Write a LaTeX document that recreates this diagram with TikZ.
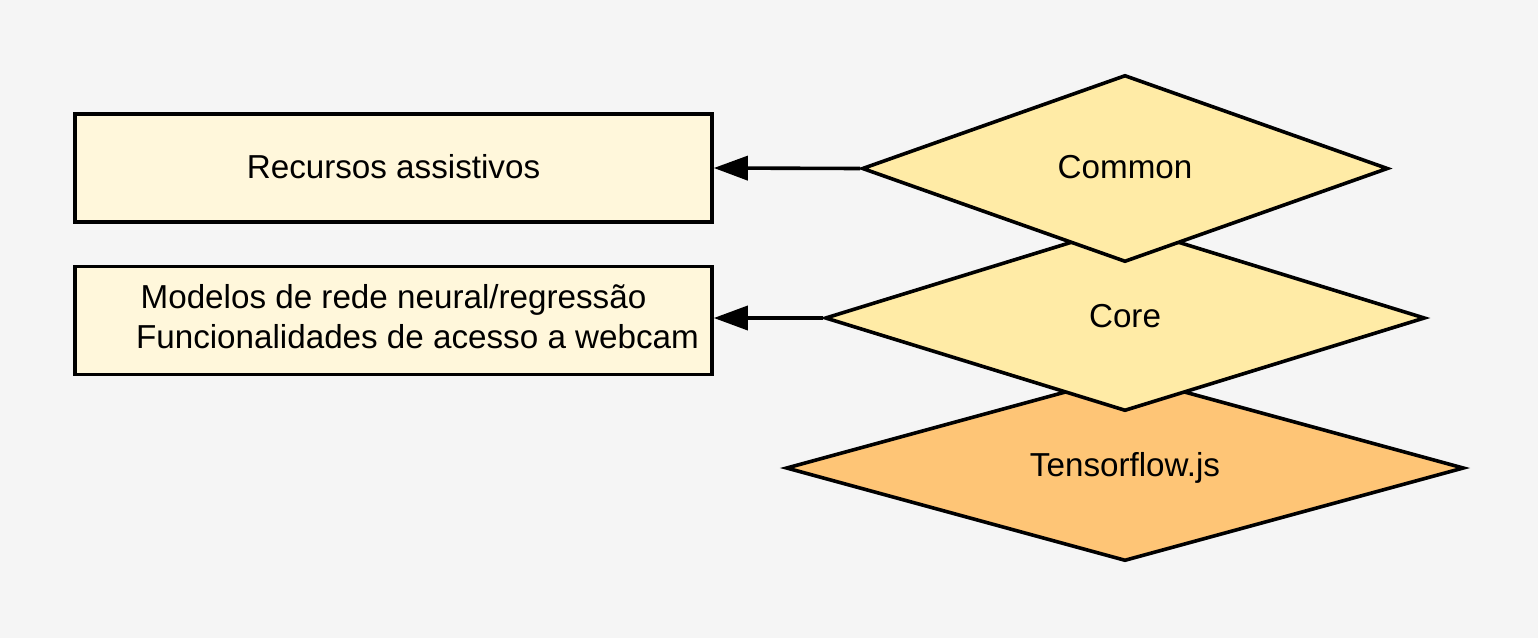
\documentclass[tikz,border=0pt]{standalone}
\usepackage{fontspec}
\setmainfont{Liberation Sans}
\usetikzlibrary{shapes.geometric,arrows.meta}
\definecolor{bg}{HTML}{F5F5F5}
\definecolor{boxfill}{HTML}{FFF7DB}
\definecolor{dfill}{HTML}{FFEBA6}
\definecolor{ofill}{HTML}{FEC576}
\begin{document}
\begin{tikzpicture}[x=0.5pt,y=-0.5pt,
  every node/.style={font=\fontsize{16.6}{20}\selectfont},
  layerbox/.style={draw=black,line width=1.8pt,fill=boxfill,minimum width=318.5pt,minimum height=54pt,inner sep=0pt},
  layer/.style={diamond,draw=black,line width=1.8pt,inner sep=0pt},
  conn/.style={line width=1.8pt,-{Triangle[length=17pt,width=12pt]}}]
\fill[bg] (0,0) rectangle (1538,638);
\useasboundingbox (0,0) rectangle (1538,638);
\node[layerbox] (rec) at (393.5,168) {\raisebox{2pt}{Recursos assistivos}};
\node[layerbox] (mod) at (393.5,320.5) {};
\node[align=center,inner sep=0pt] (modtxt) at (393.5,317) {Modelos de rede neural/regressão\\\hspace*{24pt}Funcionalidades de acesso a webcam};
\node[layer,fill=ofill,shape aspect=3.65,minimum width=339pt,minimum height=93pt] (tf) at (1125,468) {\raisebox{1pt}{Tensorflow.js}};
\node[layer,fill=dfill,shape aspect=3.23,minimum width=300pt,minimum height=93pt] (core) at (1125,318) {\raisebox{2pt}{Core}};
\node[layer,fill=dfill,shape aspect=2.81,minimum width=263pt,minimum height=93.5pt] (common) at (1125,168.5) {\raisebox{2pt}{Common}};
\draw[conn] (common.west) -- (rec.east);
\draw[conn] (core.west) -- (mod.east |- core.west);
\end{tikzpicture}
\end{document}
